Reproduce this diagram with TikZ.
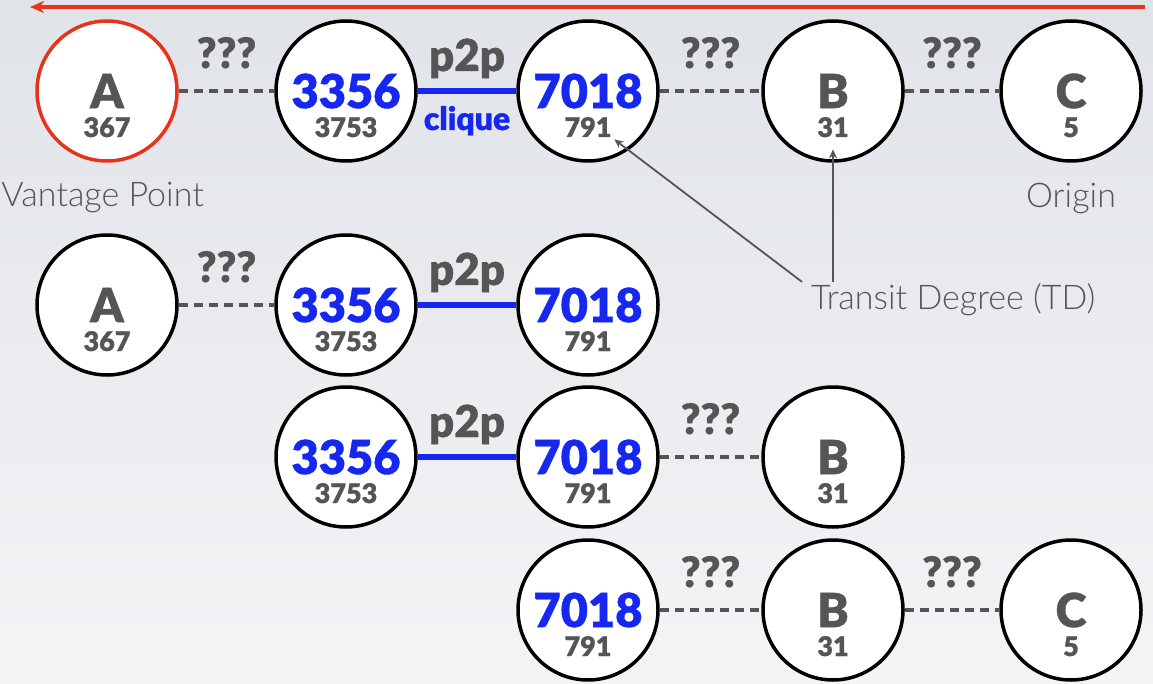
\documentclass[tikz,border=0pt]{standalone}
\usepackage{fontspec}
\setmainfont{Lato}
\newfontfamily\blackfont{Lato Black}[FakeBold=0.8]
\newfontfamily\lightfont{Lato Light}
\usepackage{xcolor}
\usetikzlibrary{arrows.meta}

\definecolor{txtgray}{RGB}{85,85,85}
\definecolor{asblue}{RGB}{22,40,240}
\definecolor{vpred}{RGB}{232,50,25}
\definecolor{bgtop}{RGB}{224,227,232}
\definecolor{bgbot}{RGB}{243,244,246}

\tikzset{
  as/.style={circle, draw=black, fill=white, line width=3.5pt, minimum size=140pt,
    inner sep=0pt, font=\blackfont\fontsize{47}{47}\selectfont},
  vp/.style={as, draw=vpred},
  num/.style={anchor=base, inner sep=1pt, text=txtgray,
    font=\blackfont\fontsize{27}{27}\selectfont},
  unk/.style={draw=txtgray, line width=4.5pt, dash pattern=on 9pt off 6pt},
  peer/.style={draw=asblue, line width=6pt},
  qm/.style={anchor=base, yshift=23pt, inner sep=1pt, text=txtgray,
    font=\blackfont\fontsize{42}{42}\selectfont},
  pp/.style={anchor=base, yshift=20pt, inner sep=1pt, text=txtgray,
    font=\blackfont\fontsize{44}{44}\selectfont},
  cl/.style={anchor=base, yshift=-39pt, inner sep=1pt, text=asblue,
    font=\blackfont\fontsize{32}{32}\selectfont},
  lbl/.style={inner sep=1pt, text=txtgray, font=\lightfont\fontsize{34}{34}\selectfont},
  ptr/.style={draw=txtgray, line width=1.8pt, -{Stealth[length=9pt,width=8pt]}},
  propag/.style={draw=vpred, line width=3.5pt, -{Stealth[length=14pt,width=12pt]}}
}

\begin{document}
\begin{tikzpicture}[x=1pt, y=-1pt]
  \shade[top color=bgtop, bottom color=bgbot] (0,0) rectangle (1153,684);
  \useasboundingbox (0,0) rectangle (1153,684);

  % red arrow along the top
  \coordinate (rs) at (1145,7);
  \coordinate (re) at (30,7);
  \draw[propag] (rs) -- (re);

  % AS circles: name/x/y/label/degree/style/colour
  \foreach \n/\x/\y/\lab/\tdv/\st/\tc in {
      a1/107/91/A/367/vp/txtgray, s1/346/91/3356/3753/as/asblue,
      t1/588/91/7018/791/as/asblue, b1/833/91/B/31/as/txtgray,
      c1/1071/91/C/5/as/txtgray,
      a2/107/305/A/367/as/txtgray, s2/346/305/3356/3753/as/asblue,
      t2/588/305/7018/791/as/asblue,
      s3/346/457/3356/3753/as/asblue, t3/588/457/7018/791/as/asblue,
      b3/833/457/B/31/as/txtgray,
      t4/588/610/7018/791/as/asblue, b4/833/610/B/31/as/txtgray,
      c4/1071/610/C/5/as/txtgray} {
    \node[\st] (\n) at (\x,\y) {\textcolor{\tc}{\lab}};
    \node[num] (n\n) at (\x,\y+46) {\tdv};
  }

  % unknown links
  \foreach \a/\b [count=\i] in {a1/s1, t1/b1, b1/c1, a2/s2, t3/b3, t4/b4, b4/c4}
    \draw[unk] (\a) -- (\b) node[midway, qm] (q\i) {???};

  % peering links
  \foreach \a/\b [count=\i] in {s1/t1, s2/t2, s3/t3}
    \draw[peer] (\a) -- (\b) node[midway, pp] (p\i) {p2p};
  \path (s1) -- (t1) node[midway, cl] (cq) {clique};

  % labels
  \node[lbl, anchor=base east] (vpt) at (205,207) {Vantage Point};
  \node[lbl, anchor=base] (org) at (1071,208) {Origin};
  \node[lbl, anchor=base west] (td) at (810,309) {Transit Degree (TD)};

  \draw[ptr, shorten >=2pt] ([xshift=-8pt]td.north west) -- (nt1.south east);
  \draw[ptr, shorten >=11pt] (td.north west -| nb1) -- (nb1.south);
\end{tikzpicture}
\end{document}
